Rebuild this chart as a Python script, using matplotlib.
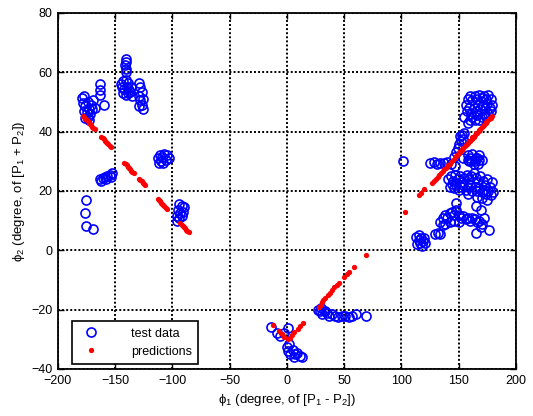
import matplotlib
matplotlib.use("Agg")
import matplotlib.pyplot as plt

plt.rcParams["font.family"] = ["Liberation Sans", "DejaVu Sans"]
plt.rcParams["mathtext.fontset"] = "custom"
plt.rcParams["mathtext.rm"] = "Liberation Sans"
plt.rcParams["mathtext.it"] = "Liberation Sans:italic"

# test data (phi1, phi2) in degrees
test_x = [
    # left, top
    -179, -177, -178, -176, -174, -173, -175, -177, -171, -172, -170, -174, -168, -169, -176, -173, -160,
    -163, -163, -163,
    -141, -141, -141.5, -140.5, -141,
    -143, -141, -139, -144, -142, -140, -138, -143, -141, -139, -137, -136, -145, -135,
    -129, -128, -127, -129, -128, -126, -127, -129, -126,
    # left, middle
    -113, -111, -109, -107, -105, -103, -110, -108, -112, -106,
    -163, -161, -159, -157, -155, -153, -162, -158, -154,
    -175.5, -176, -175.5, -169,
    -94, -92, -90, -95, -93, -91, -96, -94, -92, -96,
    # bottom
    27, 29, 31, 33, 35, 37, 39, 42, 45, 48, 51, 54, 57, 60, 69, 30,
    -14, -9, -6, -3, 1,
    0, 1, 3, 5, 7, 9, 11, 13, 2, 6,
    # right, top
    156, 158, 160, 162, 164, 166, 168, 170, 172, 174, 176, 178,
    157, 159, 161, 163, 165, 167, 169, 171, 173, 175, 177, 179,
    160, 162, 164, 166, 168, 170, 172, 174, 176, 178, 155, 158,
    # right, along the prediction line
    151, 152, 153, 150, 149, 148, 146, 154, 155,
    158, 160, 162, 164, 166, 168, 170, 163, 159, 167,
    125, 128, 131, 134, 137, 140, 143, 147, 101,
    154, 158, 161, 165, 168,
    # right, middle
    141, 143, 145, 147, 149, 151, 153, 155, 157, 159, 161, 163, 165, 167, 169, 171, 173, 175, 177, 179,
    142, 144, 146, 148, 150, 152, 154, 156, 158, 160, 162, 164, 166, 168, 170, 172, 174, 176, 178, 180,
    166, 170, 158, 175,
    147.6, 165, 169.5,
    # right, lower
    134, 136, 138, 140, 142, 144, 146, 148, 150, 152, 154, 156, 158, 160, 162, 164, 166, 168, 170,
    138, 142, 146, 150, 172, 136,
    169.5, 176.5, 165, 129, 132, 134,
    113, 115, 117, 119, 121, 114, 116, 118, 120, 115,
]
test_y = [
    51.5, 52, 49.5, 48.5, 50, 47.5, 46.5, 47, 49, 46, 47.5, 45, 48, 50.5, 44.5, 44, 49,
    56, 54, 52.5,
    64.5, 63.5, 62.5, 61, 60,
    57, 57.5, 56.5, 55, 54.5, 55, 54, 53, 52.5, 53, 53.5, 55, 56, 52,
    56.5, 55, 53.5, 52, 50.5, 51, 49, 48.5, 47.5,
    31, 32, 31.5, 32.5, 32, 31, 30, 29.5, 29.5, 30.5,
    24, 24.5, 24.8, 25.2, 25.5, 26, 23.5, 24, 24.8,
    17, 12.5, 8.2, 7.2,
    15.5, 15, 14.5, 13.5, 12.5, 13, 11.5, 11, 11.5, 10,
    -20, -20.5, -21.5, -20.5, -21, -22, -21.5, -22, -22.5, -22, -22, -22.5, -22, -21.5, -22, -19.5,
    -26, -27.8, -29, -27.8, -26.3,
    -32.5, -34, -35, -33.5, -35, -34.5, -35.5, -36, -31.5, -36,
    49, 51, 52, 50.5, 52, 51, 52.5, 51.5, 52, 51, 52.5, 51,
    47, 48, 46, 48, 47, 49, 47.5, 49, 48, 49.5, 48, 49,
    44, 45, 44, 45.5, 44, 45, 46, 45, 46, 47, 45, 43,
    38.5, 37, 39, 36, 34.5, 33, 31.5, 37.5, 39.5,
    32, 31, 32.5, 30, 31, 32, 30.5, 29, 30, 29,
    29.5, 29.8, 29.2, 29.6, 29.3, 29.7, 29, 28.5, 30,
    31, 30.5, 30, 31, 30.5,
    24, 25, 23.5, 25.5, 24, 25, 23, 24.5, 25.5, 24, 25, 26, 24.5, 23, 25, 23.5, 22, 24, 21.5, 23,
    21.5, 22.5, 21, 22, 20.5, 21.5, 22, 20.5, 21.5, 22, 20, 21.5, 20, 21, 19.5, 20.5, 19, 20, 18.5, 19.5,
    18, 17.5, 19, 17,
    16, 15, 13.5,
    9.4, 11, 12, 11, 12.5, 13, 12, 13.5, 12, 11, 11.5, 10.5, 11, 10, 11, 10.5, 9.5, 10, 9,
    9, 9.5, 10, 9.5, 11, 8.5,
    7.7, 6.7, 5.7, 5.5, 5.7, 5.4,
    4.5, 5, 4, 3, 2.5, 2, 2.5, 1.5, 4, 3.5,
]

# model predictions
pred_x = [
    -178, -177, -176, -175, -174, -173, -172, -171, -170, -169, -168,
    -162, -161, -160, -159, -158, -157, -156, -155, -154,
    -142, -141, -140, -139, -138, -137, -136, -135, -134,
    -129, -128, -127, -126, -125, -124,
    -113, -112, -111, -110, -109, -108, -107, -106, -105,
    -93, -92, -91, -90, -89, -88, -87, -86,
    -12, -6.7, -4.4, -2.3, 0.6, 2.9, 4.4, 6.4, 9.3, 11.6, 13.7,
    28, 29.5, 30.6, 31.7, 33.5, 35.5, 37.6, 39.3, 41.3, 43.4, 45.7, 50.1, 52.1, 54.4, 58.8, 69,
    103, 115.5, 117, 120,
    127, 128.5, 130, 131.5, 133, 134.5, 136, 137.5, 139, 140.5, 142, 143.5, 145, 146.5,
    148, 149.5, 151, 152.5, 154, 155.5, 157, 158.5, 160, 161.5, 163, 164.5, 166, 167.5,
    169, 170.5, 172, 173.5, 175, 176.5, 178, 179.5,
    150, 153, 156, 159, 162, 165, 168, 171, 174, 177,
]
pred_y = [
    45.2, 44.8, 44.3, 43.9, 43.5, 43.0, 42.6, 42.2, 41.7, 41.3, 40.9,
    38.2, 37.8, 37.4, 37.0, 36.5, 36.1, 35.7, 35.2, 34.8,
    29.5, 29.1, 28.6, 28.2, 27.8, 27.4, 26.9, 26.5, 26.1,
    24.0, 23.6, 23.2, 22.7, 22.3, 21.9,
    17.4, 16.9, 16.5, 16.1, 15.7, 15.2, 14.8, 14.4, 14.0,
    9.2, 8.7, 8.3, 7.9, 7.5, 7.0, 6.6, 6.2,
    -25.3, -27.2, -28.3, -29.2, -29.8, -29.6, -28.7, -27.5, -26.4, -25.4, -24.5,
    -19, -18.3, -17.4, -16.9, -16.0, -15.2, -14.4, -13.5, -12.4, -11.6, -11.0, -9.0, -8.1, -7.3, -5.6, -1.7,
    13, 18.5, 19.2, 20.8,
    22.8, 23.4, 24.1, 24.7, 25.4, 26.0, 26.7, 27.3, 27.9, 28.6, 29.2, 29.9, 30.5, 31.2,
    31.8, 32.5, 33.1, 33.8, 34.4, 35.0, 35.7, 36.3, 37.0, 37.6, 38.3, 38.9, 39.6, 40.2,
    40.9, 41.5, 42.2, 42.8, 43.5, 44.1, 44.7, 45.4,
    33.0, 34.2, 35.5, 36.8, 38.1, 39.4, 40.7, 42.0, 43.3, 44.6,
]

fig = plt.figure(figsize=(5.33, 4.16), dpi=100)
ax = fig.add_axes([0.1088, 0.113, 0.8592, 0.8558])

ax.plot(test_x, test_y, "o", ls="none", mfc="none", mec="blue", ms=6.5, mew=1.2,
        label="test data")
ax.plot(pred_x, pred_y, "o", ls="none", mfc="red", mec="red", ms=3.8, mew=0,
        label="predictions")

ax.set_xlim(-200, 200)
ax.set_ylim(-40, 80)
ax.set_xticks(range(-200, 201, 50))
ax.set_yticks(range(-40, 81, 20))
ax.grid(True, color="black", ls=(0, (1, 1.1)), lw=1.4)
ax.set_axisbelow(True)
ax.tick_params(direction="in", length=4, width=1, top=True, right=True,
               labelsize=9, pad=4)
for s in ax.spines.values():
    s.set_linewidth(1.3)

ax.set_xlabel(r"$\mathrm{\phi}_{1}$ (degree, of [P$_{1}$ - P$_{2}$])", fontsize=9.5, labelpad=4)
ax.set_ylabel(r"$\mathrm{\phi}_{2}$ (degree, of [P$_{1}$ + P$_{2}$])", fontsize=9.5, labelpad=3)

leg = ax.legend(loc="lower left", bbox_to_anchor=(0.031, 0.014), borderaxespad=0,
                fontsize=9, fancybox=False, framealpha=1, edgecolor="black",
                handletextpad=2.2, borderpad=0.5, labelspacing=0.5)
leg.get_frame().set_linewidth(1.2)

fig.savefig("out.png", dpi=100)
